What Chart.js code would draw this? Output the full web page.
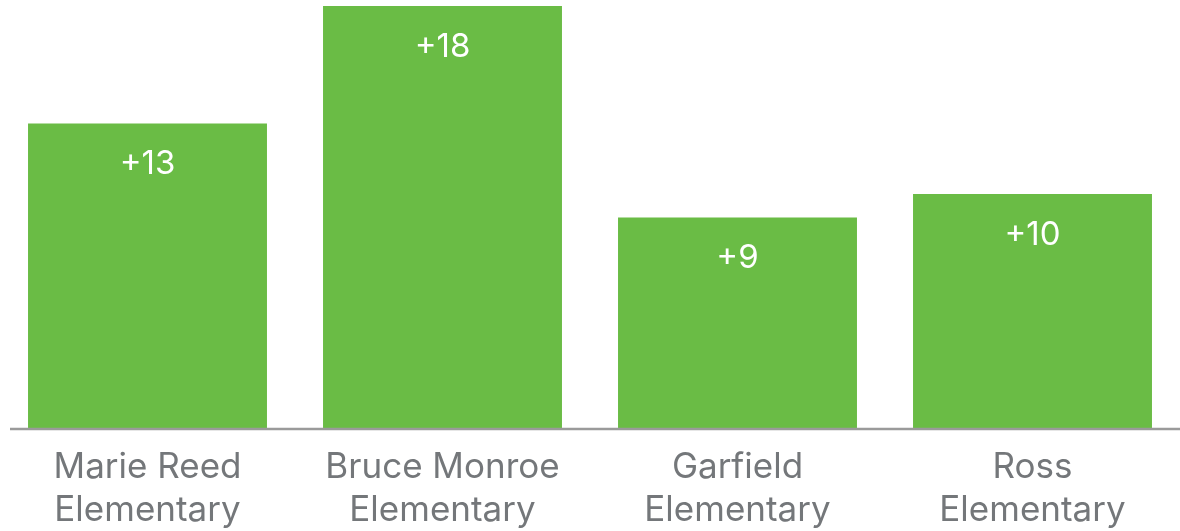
<!DOCTYPE html>
<html>
<head>
<meta charset="utf-8">
<script src="https://cdn.jsdelivr.net/npm/chart.js@4/dist/chart.umd.min.js"></script>
<style>
  html, body { margin: 0; padding: 0; background: #fff; }
  #wrap { width: 1180px; height: 531px; }
</style>
</head>
<body>
<div id="wrap"><canvas id="gains" width="1180" height="531"></canvas></div>
<script>
var schools = [["Marie Reed", "Elementary"], ["Bruce Monroe", "Elementary"], ["Garfield", "Elementary"], ["Ross", "Elementary"]];
var gains = [13, 18, 9, 10];
var barGreen = "#6abc45";
var labelGrey = "#74777a";

// white "+N" labels inside the top of each bar
var valueLabels = {
    id: "valueLabels",
    afterDatasetsDraw: function(chart) {
        var ctx = chart.ctx;
        var meta = chart.getDatasetMeta(0);
        ctx.save();
        ctx.fillStyle = "#ffffff";
        ctx.font = "33px Inter";
        ctx.textAlign = "center";
        ctx.textBaseline = "middle";
        meta.data.forEach(function(bar, i) {
            ctx.fillText("+" + gains[i], bar.x, bar.y + 41);
        });
        ctx.restore();
    }
};

// baseline starts a little in from the left edge
var baseLine = {
    id: "baseLine",
    afterDatasetsDraw: function(chart) {
        var ctx = chart.ctx;
        var y = chart.scales.y.getPixelForValue(0);
        ctx.save();
        ctx.strokeStyle = "#9a9a9a";
        ctx.lineWidth = 2.5;
        ctx.beginPath();
        ctx.moveTo(10, y);
        ctx.lineTo(chart.width, y);
        ctx.stroke();
        ctx.restore();
    }
};

window.onload = function() {
    var ctx = document.getElementById("gains").getContext("2d");
    window.myChart = new Chart(ctx, {
        type: "bar",
        data: {
            labels: schools,
            datasets: [{
                data: gains,
                backgroundColor: barGreen,
                borderWidth: 0,
                barPercentage: 0.9,
                categoryPercentage: 0.9
            }]
        },
        options: {
            responsive: false,
            animation: false,
            layout: { padding: { top: 6, left: -2, right: -2, bottom: 0 } },
            plugins: {
                legend: { display: false },
                tooltip: { enabled: false }
            },
            scales: {
                x: {
                    grid: { display: false, drawTicks: false },
                    border: { display: false },
                    ticks: {
                        color: labelGrey,
                        font: { family: "Inter", size: 35, lineHeight: 1.22 },
                        padding: 17,
                        maxRotation: 0
                    },
                    afterFit: function(scale) { scale.height = 102; }
                },
                y: {
                    display: false,
                    min: 0,
                    max: 18
                }
            }
        },
        plugins: [valueLabels, baseLine]
    });
};
</script>
</body>
</html>
